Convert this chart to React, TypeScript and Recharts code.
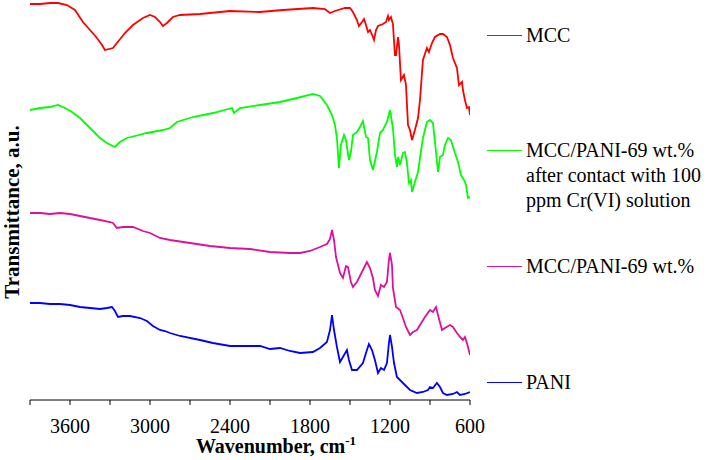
import React from 'react';
import { LineChart, Line, XAxis, YAxis, Legend, Label } from 'recharts';

// FTIR spectra, wavenumber (cm-1) and transmittance (a.u., curves offset)
const mccWn = [3900, 3825, 3750, 3690, 3623, 3563, 3503, 3450, 3398, 3360, 3338, 3278, 3248, 3188, 3128, 3053, 3000, 2963, 2925, 2903, 2873, 2828, 2775, 2625, 2400, 2175, 2003, 1778, 1688, 1650, 1613, 1538, 1500, 1478, 1448, 1433, 1410, 1395, 1380, 1365, 1350, 1328, 1320, 1305, 1290, 1253, 1230, 1215, 1208, 1193, 1178, 1163, 1155, 1140, 1133, 1118, 1095, 1080, 1065, 1050, 1035, 1013, 990, 975, 953, 923, 908, 885, 863, 825, 803, 773, 750, 728, 698, 683, 660, 653, 638, 623, 608, 600];
const mccT = [396, 396, 397, 397, 395, 390, 378, 370, 362, 355, 350, 352, 357, 367, 375, 382, 385, 383, 378, 374, 377, 383, 385, 386, 389, 388, 390, 392, 391, 387, 389, 392, 392, 388, 380, 374, 378, 381, 375, 368, 370, 363, 360, 370, 374, 376, 378, 384, 380, 383, 376, 345, 345, 363, 356, 320, 325, 315, 275, 270, 260, 270, 282, 300, 340, 352, 348, 357, 363, 366, 366, 363, 355, 342, 332, 315, 318, 310, 300, 292, 293, 285];

const crWn = [3900, 3825, 3750, 3690, 3638, 3585, 3525, 3450, 3375, 3323, 3263, 3225, 3173, 3113, 3023, 2903, 2850, 2798, 2678, 2528, 2385, 2370, 2325, 2175, 2025, 1898, 1778, 1725, 1673, 1635, 1613, 1598, 1583, 1568, 1545, 1530, 1508, 1493, 1478, 1448, 1425, 1403, 1380, 1365, 1350, 1328, 1298, 1275, 1253, 1223, 1200, 1178, 1163, 1148, 1140, 1125, 1103, 1088, 1073, 1058, 1043, 1035, 1013, 990, 975, 953, 923, 900, 878, 855, 840, 825, 803, 788, 765, 743, 713, 690, 668, 645, 630, 615, 600];
const crT = [290, 292, 293, 295, 292, 288, 282, 272, 262, 257, 253, 258, 262, 264, 267, 270, 272, 278, 283, 287, 292, 287, 292, 295, 298, 302, 306, 304, 295, 285, 275, 262, 232, 255, 265, 260, 240, 248, 265, 268, 273, 279, 263, 262, 240, 230, 248, 267, 270, 278, 290, 272, 245, 233, 243, 235, 247, 248, 237, 217, 220, 208, 218, 228, 242, 262, 278, 280, 277, 248, 228, 243, 245, 255, 262, 260, 247, 238, 225, 220, 215, 202, 203];

const compWn = [3900, 3825, 3750, 3675, 3600, 3525, 3450, 3375, 3300, 3278, 3248, 3203, 3128, 3053, 3000, 2925, 2850, 2700, 2550, 2400, 2250, 2100, 1950, 1875, 1800, 1725, 1673, 1650, 1635, 1620, 1605, 1575, 1553, 1530, 1515, 1493, 1478, 1448, 1403, 1373, 1350, 1328, 1313, 1290, 1268, 1245, 1223, 1208, 1200, 1185, 1178, 1155, 1125, 1103, 1080, 1050, 1028, 998, 975, 938, 900, 878, 855, 840, 810, 788, 750, 728, 698, 675, 653, 638, 623, 600];
const compT = [187, 187, 186, 187, 186, 184, 182, 180, 178, 177, 172, 173, 173, 169, 167, 162, 160, 157, 154, 152, 151, 148, 147, 147, 149, 153, 156, 161, 170, 160, 143, 127, 122, 134, 133, 118, 113, 118, 130, 138, 132, 122, 110, 104, 115, 113, 118, 140, 147, 135, 112, 93, 90, 82, 73, 65, 68, 70, 75, 83, 90, 88, 93, 85, 70, 72, 75, 73, 67, 63, 60, 63, 57, 45];

const paniWn = [3900, 3825, 3750, 3675, 3600, 3525, 3450, 3375, 3323, 3285, 3263, 3240, 3203, 3150, 3075, 3023, 2978, 2925, 2888, 2850, 2775, 2625, 2528, 2400, 2325, 2175, 2100, 2025, 1950, 1875, 1778, 1725, 1673, 1650, 1635, 1620, 1598, 1575, 1553, 1523, 1508, 1485, 1448, 1403, 1373, 1358, 1335, 1313, 1290, 1268, 1245, 1223, 1208, 1200, 1185, 1170, 1148, 1125, 1088, 1050, 998, 953, 915, 900, 878, 848, 825, 803, 773, 728, 698, 675, 638, 600];
const paniT = [97, 97, 96, 96, 95, 93, 92, 91, 92, 93, 89, 83, 84, 84, 82, 79, 74, 70, 69, 67, 64, 60, 57, 54, 54, 54, 51, 52, 49, 47, 48, 52, 58, 70, 85, 70, 53, 38, 43, 50, 40, 30, 30, 37, 50, 56, 50, 40, 27, 32, 30, 37, 57, 65, 53, 37, 23, 20, 15, 10, 7, 8, 10, 13, 12, 17, 13, 7, 5, 6, 8, 5, 6, 8];

const seriesNames = [
  'MCC',
  'MCC/PANI-69 wt.%\nafter contact with 100\nppm Cr(VI) solution',
  'MCC/PANI-69 wt.%',
  'PANI',
];
const seriesColors = ['#FF0000', '#00FF00', '#DD1199', '#0000FF'];
const xTicks = [3900, 3600, 3300, 3000, 2700, 2400, 2100, 1800, 1500, 1200, 900, 600];

const toRows = (wn: number[], t: number[]) => wn.map((w, i) => ({ wn: w, t: t[i] }));
const seriesData = [toRows(mccWn, mccT), toRows(crWn, crT), toRows(compWn, compT), toRows(paniWn, paniT)];

const serif = '"Liberation Serif", "Times New Roman", serif';
// vertical centre of the first text line of each legend entry
const legendTops = [35, 150, 266, 382];

const renderLegend = (props: any) => {
  const items = props.payload || [];
  return (
    <div style={{ position: 'relative', width: 222, height: 460 }}>
      {items.map((entry: any) => {
        const idx = seriesNames.indexOf(entry.value);
        return (
          <div
            key={entry.value}
            style={{ position: 'absolute', left: 0, top: legendTops[idx] - 12.5, display: 'flex', alignItems: 'flex-start' }}
          >
            <div style={{ width: 35, height: 0, borderTop: `1.5px solid ${seriesColors[idx]}`, marginTop: 12, marginRight: 4 }} />
            <div style={{ whiteSpace: 'pre-line', lineHeight: '25px', fontSize: 20, fontFamily: serif, color: '#000' }}>
              {entry.value}
            </div>
          </div>
        );
      })}
    </div>
  );
};

const XTitle = () => (
  <text x={276} y={453} textAnchor="middle" fontFamily={serif} fontWeight="bold" fontSize={20} fill="#000">
    <tspan>Wavenumber, cm</tspan>
    <tspan dy={-8} fontSize={13}>-1</tspan>
  </text>
);

const YTitle = () => (
  <text
    x={19}
    y={212}
    transform="rotate(-90 19 212)"
    textAnchor="middle"
    fontFamily={serif}
    fontWeight="bold"
    fontSize={21}
    fill="#000"
  >
    Transmittance, a.u.
  </text>
);

export default function App() {
  return (
    <div style={{ position: 'absolute', left: 0, top: 0 }}>
      <LineChart width={709} height={460} margin={{ top: 0, right: 239, left: 30, bottom: 0 }}>
        <XAxis
          type="number"
          dataKey="wn"
          domain={[600, 3900]}
          reversed
          ticks={xTicks}
          interval={0}
          tickFormatter={(v: number) => (v % 600 === 0 ? String(v) : '')}
          tickSize={5}
          tickMargin={14}
          height={60}
          stroke="#000"
          tick={{ fill: '#000', fontSize: 20, fontFamily: serif }}
          allowDataOverflow
        >
          <Label content={<XTitle />} />
          <Label content={<YTitle />} />
        </XAxis>
        <YAxis type="number" domain={[0, 400]} hide allowDataOverflow />
        <Legend
          layout="vertical"
          align="center"
          verticalAlign="middle"
          content={renderLegend}
          wrapperStyle={{ left: 487, top: 0, width: 222, height: 460 }}
        />
        {seriesData.map((rows, i) => (
          <Line
            key={i}
            data={rows}
            dataKey="t"
            name={seriesNames[i]}
            type="linear"
            stroke={seriesColors[i]}
            strokeWidth={1.8}
            dot={false}
            activeDot={false}
            isAnimationActive={false}
          />
        ))}
      </LineChart>
    </div>
  );
}
